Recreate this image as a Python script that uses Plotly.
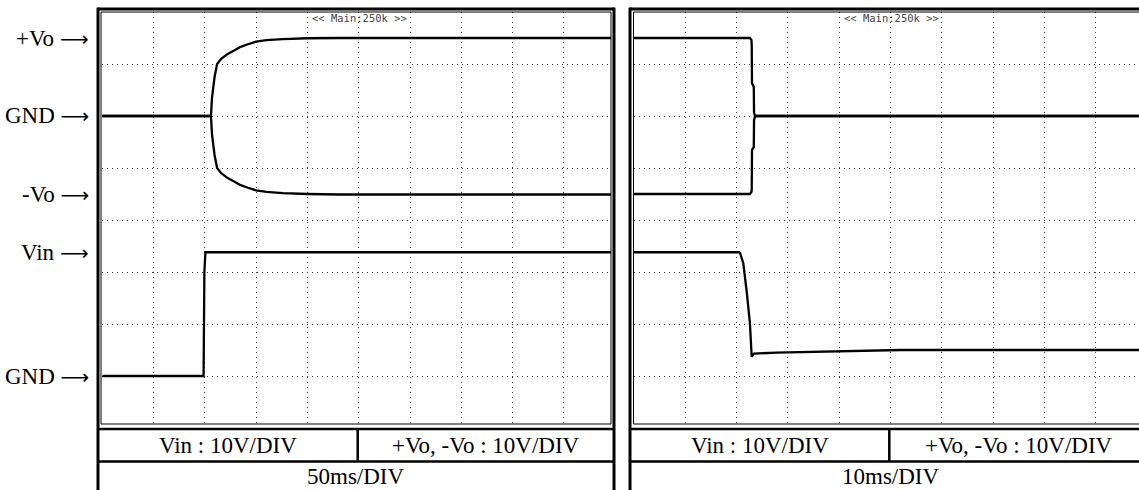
import plotly.graph_objects as go

W, H = 1139, 490

# ---- captured waveforms (time in ms, voltage in V) ----
# left screen: power-up, 50 ms/div
left_vin_t = [0, 98.8, 99.6, 100.6, 496]
left_vin_v = [0, 0, 20.0, 23.8, 23.8]

left_vo_t = [0, 106, 107, 109.5, 112, 116, 122, 128, 135, 142, 150, 160, 176, 200, 230, 496]
left_vpos = [0, 0, 3.5, 7.5, 10.0, 11.0, 11.9, 12.6, 13.3, 13.8, 14.3, 14.6, 14.8, 14.95, 15.0, 15.0]
left_vneg = [0, 0, -3.5, -7.5, -10.0, -11.0, -11.9, -12.6, -13.3, -13.8, -14.3, -14.6, -14.85, -15.0, -15.1, -15.1]

# right screen: power-down, 10 ms/div
right_vin_t = [0, 20.5, 20.7, 21.3, 21.97, 22.6, 22.94, 23.4, 27.8, 40, 52, 98.5]
right_vin_v = [23.8, 23.8, 23.6, 21.7, 16.2, 10.1, 3.7, 4.3, 4.5, 4.8, 5.0, 5.0]

right_vo_t = [0, 22.6, 22.9, 22.95, 23.0, 23.35, 23.4, 23.6, 98.5]
right_vpos = [15.0, 15.0, 14.6, 13.5, 6.3, 5.6, 0.6, 0, 0]
right_vneg = [-15.0, -15.0, -14.6, -14.2, -6.5, -6.0, -0.8, 0, 0]

# screen annotations
channel_labels = ["+Vo", "GND", "-Vo", "Vin", "GND"]
channel_levels = [15, 0, -15, 23.8, 0]
channel_is_vo = [True, True, True, False, False]
scale_texts = ["Vin : 10V/DIV", "+Vo, -Vo : 10V/DIV"]
timebase_texts = ["50ms/DIV", "10ms/DIV"]
scope_tag = "<< Main:250k >>"

# ---- screen geometry (pixels) ----
VO_OFFSET = 50          # Vo ground sits 5 div above Vin ground (10 V/div)
PX_DIV_X = 51.3
PX_DIV_Y = 52.0
Y_GND_VIN = 376.0
Y_TOP, Y_BOT = 12.0, 424.0

def px(x):
    return x / W

def py(y):
    return 1 - y / H

def y_of(v):
    return Y_GND_VIN - v / 10.0 * PX_DIV_Y

y_range = [(Y_GND_VIN - Y_BOT) / PX_DIV_Y * 10, (Y_GND_VIN - Y_TOP) / PX_DIV_Y * 10]

panels = [
    dict(x0=102.2, x_end=611.0, ms_div=50, outer_l=98, outer_r=614, inner_l=101, inner_r=611,
         split=357.7, center=356),
    dict(x0=634.0, x_end=W, ms_div=10, outer_l=630, outer_r=1148, inner_l=633.5, inner_r=1144,
         split=889.3, center=891),
]

fig = go.Figure()

def add(t, v, offset, ax):
    fig.add_trace(go.Scatter(
        x=t, y=[val + offset for val in v], mode="lines",
        line=dict(color="black", width=2.3), xaxis=ax[0], yaxis=ax[1],
        hoverinfo="skip", showlegend=False))

add(left_vin_t, left_vin_v, 0, ("x", "y"))
add(left_vo_t, left_vpos, VO_OFFSET, ("x", "y"))
add(left_vo_t, left_vneg, VO_OFFSET, ("x", "y"))
add(right_vin_t, right_vin_v, 0, ("x2", "y2"))
add(right_vo_t, right_vpos, VO_OFFSET, ("x2", "y2"))
add(right_vo_t, right_vneg, VO_OFFSET, ("x2", "y2"))

grid = dict(showgrid=True, gridcolor="#3a3a3a", gridwidth=1, griddash="1px,4px",
            zeroline=False, showticklabels=False, ticks="", showline=False, fixedrange=True)

for i, p in enumerate(panels):
    suffix = "" if i == 0 else str(i + 1)
    x_span = (p["x_end"] - p["x0"]) / PX_DIV_X * p["ms_div"]
    fig.layout["xaxis" + suffix] = dict(
        domain=[px(p["x0"]), px(p["x_end"])], range=[0, x_span],
        tick0=0, dtick=p["ms_div"], anchor="y" + suffix, **grid)
    fig.layout["yaxis" + suffix] = dict(
        domain=[py(Y_BOT), py(Y_TOP)], range=y_range,
        tick0=0, dtick=10, anchor="x" + suffix, **grid)

shapes = []
annotations = []

def line(x0, y0, x1, y1, w):
    shapes.append(dict(type="line", xref="paper", yref="paper",
                       x0=px(x0), y0=py(y0), x1=px(x1), y1=py(y1),
                       line=dict(color="black", width=w)))

def text(s, x, y, size, family="Liberation Serif", color="black", xanchor="center"):
    annotations.append(dict(text=s, x=px(x), y=py(y), xref="paper", yref="paper",
                            xanchor=xanchor, yanchor="middle", showarrow=False,
                            font=dict(family=family, size=size, color=color)))

for i, p in enumerate(panels):
    # outer heavy frame
    line(p["outer_l"], 9, p["outer_r"], 9, 3)
    line(p["outer_l"], 7.5, p["outer_l"], 500, 3)
    line(p["outer_r"], 7.5, p["outer_r"], 500, 3)
    # inner screen border
    line(p["inner_l"], Y_TOP, p["inner_r"], Y_TOP, 1)
    line(p["inner_l"], Y_TOP, p["inner_l"], Y_BOT, 1)
    line(p["inner_r"], Y_TOP, p["inner_r"], Y_BOT, 1)
    line(p["inner_l"], Y_BOT, p["inner_r"], Y_BOT, 1)
    # scale table
    line(p["outer_l"], 429, p["outer_r"], 429, 2.5)
    line(p["outer_l"], 461.5, p["outer_r"], 461.5, 2.5)
    line(p["split"], 429, p["split"], 461.5, 2.5)

    text(scale_texts[0], (p["outer_l"] + p["split"]) / 2, 445.5, 23)
    text(scale_texts[1], (p["split"] + p["outer_r"]) / 2, 445.5, 23)
    text(timebase_texts[i], p["center"], 476.5, 23)
    text(scope_tag, p["x0"] + 5 * PX_DIV_X + 1, 18, 10.5, family="DejaVu Sans Mono", color="#444444")

arrow = ' <span style="font-family:DejaVu Sans;font-size:20px">⟶</span>'
for label, lvl, is_vo in zip(channel_labels, channel_levels, channel_is_vo):
    v = lvl + (VO_OFFSET if is_vo else 0)
    text(label + arrow, 91, y_of(v), 23, xanchor="right")

fig.update_layout(
    width=W, height=H, margin=dict(l=0, r=0, t=0, b=0),
    paper_bgcolor="white", plot_bgcolor="white",
    shapes=shapes, annotations=annotations, showlegend=False,
)

fig.write_html("out.html", config={"displayModeBar": False})
